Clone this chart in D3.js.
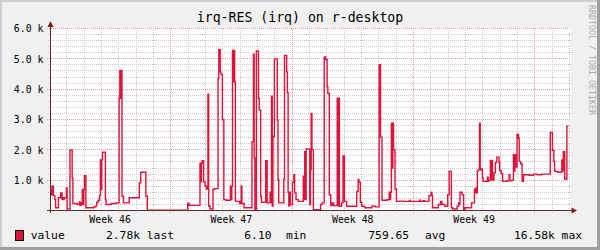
<!DOCTYPE html>
<html>
<head>
<meta charset="utf-8">
<script src="https://cdn.jsdelivr.net/npm/d3@7"></script>
<style>
  body { margin: 0; background: #f0f0f0; }
  text { font-family: "DejaVu Sans Mono", monospace; }
</style>
</head>
<body>
<div id="chart"></div>
<script>
// irq-RES samples: hours since graph start, value from that hour on
var stepHours = [
  0, 1, 2, 4, 6, 7, 11, 14, 16, 17, 18, 19, 22, 23, 27, 30, 31, 37, 40, 41,
  42, 43, 44, 45, 46, 47, 49, 60, 63, 64, 66, 68, 69, 70, 71, 72, 76, 77, 84, 91,
  95, 96, 97, 98, 99, 101, 109, 123, 125, 132, 134, 150, 170,
  190, 192, 207, 208, 209, 210, 212, 214, 216, 218, 219, 221, 225, 227, 232, 233,
  235, 236, 238, 240, 243, 249, 250, 251, 252, 253, 254, 255, 256, 262, 264, 265,
  268, 279, 281, 282, 283, 285, 288, 289, 291, 292, 298, 300, 304, 305, 306, 307,
  308, 310, 314, 315, 316, 323, 324, 327, 328, 329, 330, 331, 332, 335, 337, 338,
  340, 343, 350, 351, 352, 353, 354, 359, 360, 361, 362, 364, 374, 376, 379, 381,
  383, 384, 386, 388, 390, 392, 397, 398, 399, 400, 403, 405, 407, 410, 424, 426,
  427, 429, 431, 435, 445, 450, 455, 457, 459, 466, 469, 470, 471, 472, 473, 474,
  475, 477, 479, 483, 489, 497, 498, 511, 512, 516, 518, 524, 527, 528, 529, 537,
  540, 542, 546, 550, 552, 555, 557, 563, 565, 566, 567, 570, 572, 574, 583, 587,
  588, 589, 590, 591, 592, 594, 595, 596, 598, 599, 605, 606, 607, 609, 610, 611,
  612, 614, 616, 618, 621, 622, 624, 626, 632, 635, 636, 639, 641, 642, 643, 644,
  646, 648, 649, 651, 653, 655, 663, 669, 674, 680, 692, 695, 697, 698, 699, 702,
  708, 709, 710, 712, 715, 717
];
var stepValues = [
  670, 520, 800, 490, 360, 90, 420, 580, 360, 420, 370, 420, 740, 50, 2000, 1070, 230, 200, 280, 170,
  260, 200, 690, 200, 690, 1150, 90, 120, 170, 270, 340, 490, 1670, 690, 1670, 1920, 360, 200, 230, 250,
  3700, 4620, 3700, 4620, 470, 250, 420, 910, 1260, 470, 12, 6.1, 9,
  230, 170, 1560, 950, 1560, 1640, 950, 800, 710, 3830, 140, 50, 690, 720, 4350, 5300,
  4570, 4480, 3000, 360, 340, 800, 360, 800, 5280, 4240, 5280, 4240, 300, 230, 800, 230,
  90, 2270, 5150, 1730, 30, 5260, 3700, 3310, 470, 270, 1640, 250, 600, 250, 3770, 150,
  2440, 5000, 2980, 1020, 250, 1020, 5110, 4570, 3880, 600, 150, 600, 200, 930, 1180, 580,
  360, 300, 1130, 360, 1940, 360, 2030, 200, 1340, 3200, 2000, 30, 200, 250, 5060, 4970,
  4080, 3860, 520, 160, 250, 160, 3700, 160, 3700, 140, 250, 1800, 300, 140, 630, 1020,
  930, 270, 140, 90, 140, 120, 4810, 2420, 340, 360, 600, 360, 600, 2880, 1400, 2880,
  2000, 710, 300, 310, 300, 330, 300, 340, 300, 320, 300, 490, 600, 490, 90, 200,
  300, 200, 140, 520, 1290, 90, 50, 140, 250, 200, 600, 520, 30, 90, 250, 700,
  580, 740, 580, 1290, 1340, 2880, 1340, 1370, 1070, 960, 1100, 960, 1000, 1650, 1000, 1650,
  1000, 1240, 1580, 1760, 1580, 1320, 1210, 960, 980, 1180, 980, 1000, 1840, 1300, 1840, 1430,
  2510, 2380, 1620, 1540, 960, 1180, 1160, 1200, 1180, 1200, 2570, 1980, 1620, 1300, 1290, 1260,
  1670, 1300, 1940, 1040, 2780, 2780
];

var yTicks = [1000, 2000, 3000, 4000, 5000, 6000];
var yTickLabels = ["1.0 k", "2.0 k", "3.0 k", "4.0 k", "5.0 k", "6.0 k"];
var legendName = "value";
var legendStats = ["2.78k last", "6.10", "min", "759.65", "avg", "16.58k max"];

var width = 600, height = 250;
var start = new Date(Date.UTC(2023, 10, 13, 1, 30));
var end = d3.utcHour.offset(start, 720);

var data = stepHours.map((h, i) => ({ t: d3.utcHour.offset(start, h), v: stepValues[i] }));

var x = d3.scaleUtc().domain([start, end]).range([50.5, 570.5]);
var y = d3.scaleLinear().domain([0, 6000]).range([210.5, 28.5]);

var svg = d3.select("#chart")
  .append("svg")
  .attr("width", width)
  .attr("height", height);

// background and shaded frame
svg.append("rect").attr("width", width).attr("height", height).attr("fill", "#f0f0f0");
svg.append("rect").attr("x", 0).attr("y", 0).attr("width", width).attr("height", 2).attr("fill", "#cfcfcf");
svg.append("rect").attr("x", 0).attr("y", 0).attr("width", 2).attr("height", height).attr("fill", "#cfcfcf");
svg.append("rect").attr("x", 0).attr("y", height - 3).attr("width", width).attr("height", 3).attr("fill", "#9e9e9e");
svg.append("rect").attr("x", width - 3).attr("y", 0).attr("width", 3).attr("height", height).attr("fill", "#9e9e9e");

// canvas
svg.append("rect")
  .attr("x", 51).attr("y", 28)
  .attr("width", 520).attr("height", 183)
  .attr("fill", "#ffffff");

var grid = svg.append("g").attr("stroke-width", 1).attr("stroke-dasharray", "1,1");

// horizontal grid
var minorY = d3.range(200, 6001, 200).filter(v => v % 1000 != 0);
grid.selectAll(".hmin").data(minorY).join("line")
  .attr("x1", 48).attr("x2", 571)
  .attr("y1", d => Math.floor(y(d)) + 0.5).attr("y2", d => Math.floor(y(d)) + 0.5)
  .attr("stroke", "#c8c8c8");
grid.selectAll(".hmaj").data(yTicks).join("line")
  .attr("x1", 47).attr("x2", 571)
  .attr("y1", d => Math.floor(y(d)) + 0.5).attr("y2", d => Math.floor(y(d)) + 0.5)
  .attr("stroke", "#eb9a9a");

// vertical grid: days and weeks
var days = d3.utcDay.range(d3.utcDay.ceil(start), end).filter(d => d.getUTCDay() != 1);
var weeks = d3.utcMonday.range(start, end);
grid.selectAll(".vmin").data(days).join("line")
  .attr("x1", d => Math.floor(x(d)) + 0.5).attr("x2", d => Math.floor(x(d)) + 0.5)
  .attr("y1", 28).attr("y2", 213)
  .attr("stroke", "#c8c8c8");
grid.selectAll(".vmaj").data(weeks).join("line")
  .attr("x1", d => Math.floor(x(d)) + 0.5).attr("x2", d => Math.floor(x(d)) + 0.5)
  .attr("y1", 28).attr("y2", 214)
  .attr("stroke", "#eb9a9a");

// the series
var line = d3.line()
  .x(d => x(d.t))
  .y(d => y(d.v))
  .curve(d3.curveStepAfter);
svg.append("path")
  .datum(data)
  .attr("d", line)
  .attr("fill", "none")
  .attr("stroke", "#dc143c")
  .attr("stroke-width", 1.4);

// axes and arrows
svg.append("line").attr("x1", 47).attr("x2", 573).attr("y1", 210.5).attr("y2", 210.5)
  .attr("stroke", "#5a2a2a");
svg.append("line").attr("x1", 50.5).attr("x2", 50.5).attr("y1", 213).attr("y2", 25)
  .attr("stroke", "#5a2a2a");
svg.append("path").attr("d", "M50.5,21L47.5,27L53.5,27Z").attr("fill", "#801f1f");
svg.append("path").attr("d", "M577,210.5L571.5,207.5L571.5,213.5Z").attr("fill", "#801f1f");

// y labels
svg.selectAll(".ylab").data(yTicks).join("text")
  .attr("x", 43.5)
  .attr("y", d => y(d) + 3.8)
  .attr("text-anchor", "end")
  .attr("font-size", "9.9px")
  .attr("fill", "#000")
  .text((d, i) => yTickLabels[i]);

// week labels, centred mid-week
var weekStarts = d3.utcMonday.range(d3.utcMonday.floor(start), end)
  .filter(d => d3.utcHour.offset(d, 84) < end);
svg.selectAll(".xlab").data(weekStarts).join("text")
  .attr("x", d => x(d3.utcHour.offset(d, 84)))
  .attr("y", 223.3)
  .attr("text-anchor", "middle")
  .attr("font-size", "9.9px")
  .attr("fill", "#000")
  .text(d => d3.utcFormat("Week %V")(d));

// title
svg.append("text")
  .attr("x", 300).attr("y", 22.3)
  .attr("text-anchor", "middle")
  .attr("font-size", "13.2px")
  .text("irq-RES (irq) on r-desktop");

// watermark
svg.append("text")
  .attr("transform", "translate(588.5,5) rotate(90)")
  .attr("font-size", "8.3px")
  .attr("fill", "#aaaaaa")
  .text("RRDTOOL / TOBI OETIKER");

// legend
svg.append("rect")
  .attr("x", 15.5).attr("y", 230.5)
  .attr("width", 8).attr("height", 10)
  .attr("fill", "#dc143c").attr("stroke", "#000");
var legendX = [106, 244.3, 286, 368.3, 425, 514];
var legend = svg.append("g").attr("font-size", "11.3px");
legend.append("text").attr("x", 30.7).attr("y", 239.3).text(legendName);
legend.selectAll(".stat").data(legendStats).join("text")
  .attr("x", (d, i) => legendX[i])
  .attr("y", 239.3)
  .text(d => d);
</script>
</body>
</html>
